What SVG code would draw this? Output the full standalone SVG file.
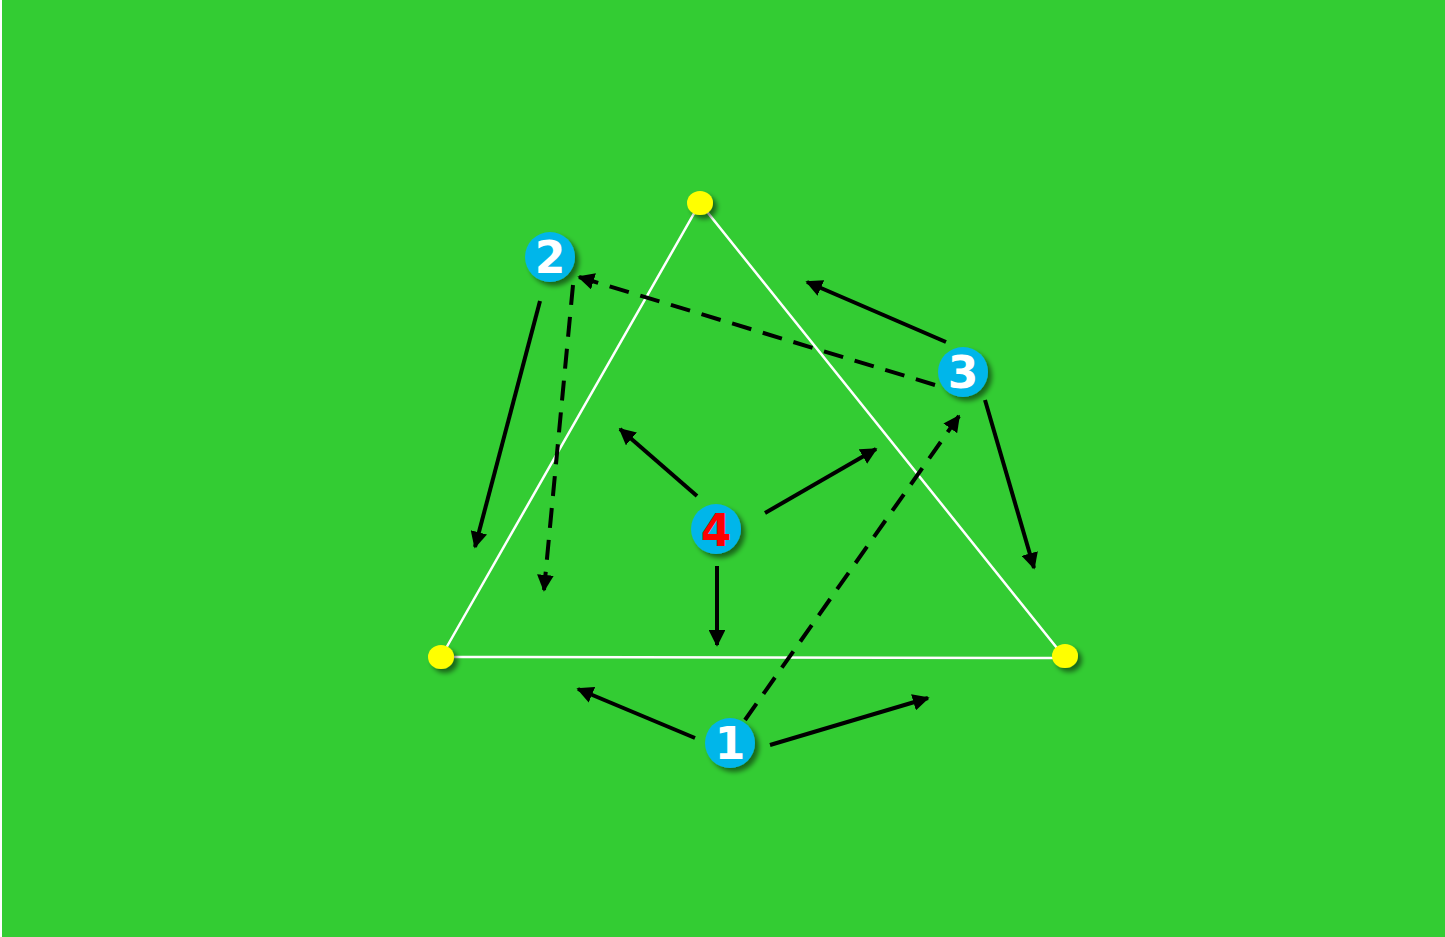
<svg xmlns="http://www.w3.org/2000/svg" width="1445" height="937" viewBox="0 0 1445 937">
<style>
.a{stroke:#000;stroke-width:4;fill:none;marker-end:url(#ah)}
.d{stroke-dasharray:20 12}
.tri{stroke:#fff;stroke-width:2.5;fill:none}
.dot{fill:#ffff00;filter:url(#sh)}
.c{fill:#00b6ea;filter:url(#sh)}
.t{font-family:"DejaVu Sans",Verdana,sans-serif;font-weight:bold;font-size:44px;text-anchor:middle;fill:#fff}
</style>
<defs>
<marker id="ah" viewBox="0 0 10 10" refX="9" refY="5" markerWidth="4.2" markerHeight="4.2" orient="auto" markerUnits="strokeWidth">
<path d="M0,0 L10,5 L0,10 z" fill="#000"/>
</marker>
<filter id="sh" x="-50%" y="-50%" width="200%" height="200%">
<feGaussianBlur in="SourceAlpha" stdDeviation="2.5"/>
<feOffset dx="4" dy="4" result="b"/>
<feComponentTransfer><feFuncA type="linear" slope="0.5"/></feComponentTransfer>
<feMerge><feMergeNode/><feMergeNode in="SourceGraphic"/></feMerge>
</filter>
</defs>
<rect x="0" y="0" width="1445" height="937" fill="#fff"/>
<rect x="2" y="0" width="1443" height="937" fill="#33cc33"/>
<g id="triangle">
<polyline class="tri" points="441,657 700,203 1065,658 441,657"/>
</g>
<g id="connectors">
<line class="a" x1="540" y1="301" x2="475" y2="547"/>
<line class="a d" x1="573" y1="285" x2="544" y2="590"/>
<line class="a d" x1="935" y1="385" x2="579" y2="277"/>
<line class="a" x1="946" y1="342" x2="807" y2="282"/>
<line class="a" x1="985" y1="400" x2="1034" y2="568"/>
<line class="a" x1="697" y1="496" x2="620" y2="429"/>
<line class="a" x1="765" y1="513" x2="876" y2="449"/>
<line class="a" x1="717" y1="566" x2="717" y2="645"/>
<line class="a" x1="695" y1="738" x2="578" y2="689"/>
<line class="a" x1="770" y1="745" x2="928" y2="698"/>
<line class="a d" x1="745" y1="720" x2="959" y2="416"/>
</g>
<g id="cone-top"><ellipse class="dot" cx="700" cy="203" rx="13" ry="12"/></g>
<g id="cone-left"><ellipse class="dot" cx="441" cy="657" rx="13" ry="12"/></g>
<g id="cone-right"><ellipse class="dot" cx="1065" cy="656" rx="13" ry="12"/></g>
<g id="n2"><circle class="c" cx="550" cy="257" r="25"/><text class="t" x="550" y="273">2</text></g>
<g id="n3"><circle class="c" cx="963" cy="372" r="25"/><text class="t" x="963" y="388">3</text></g>
<g id="n4"><circle class="c" cx="716" cy="529" r="25"/><text class="t" x="716" y="546" style="fill:#ff0000">4</text></g>
<g id="n1"><circle class="c" cx="730" cy="743" r="25"/><text class="t" x="730" y="759">1</text></g>
</svg>
